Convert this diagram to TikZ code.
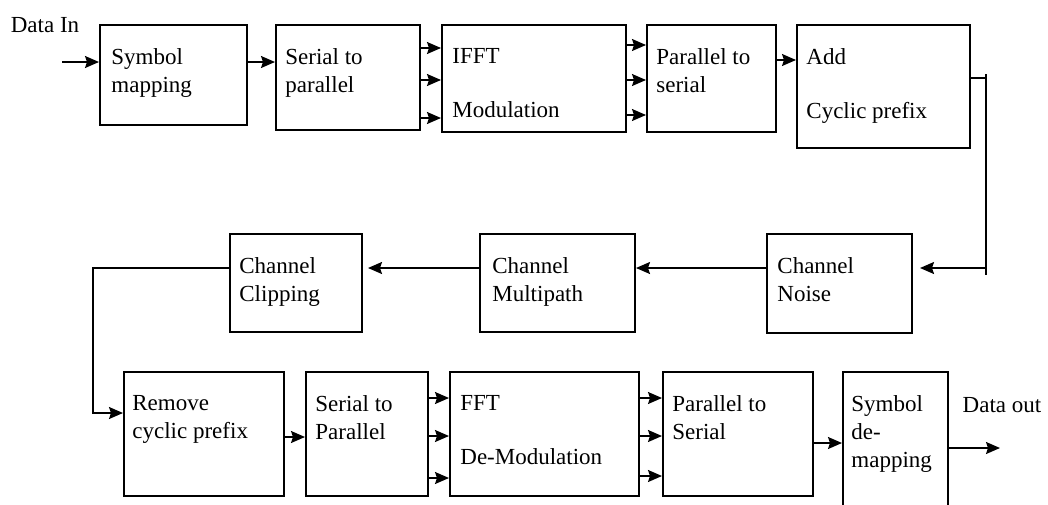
\documentclass[tikz,border=0pt]{standalone}
\usepackage{fontspec}
\setmainfont{Liberation Serif}
\usetikzlibrary{arrows.meta, positioning}

\tikzset{
  blk/.style 2 args={draw, line width=1pt, inner sep=0pt,
    minimum width=#1*0.5pt, minimum height=#2*0.5pt},
  lbl/.style={anchor=north west, inner sep=0pt, align=left,
    font=\fontsize{11.5}{14}\selectfont},
  arr/.style={-{Stealth[length=7pt,width=6pt,inset=1pt]}, line width=0.8pt},
  ln/.style={line width=0.8pt}
}

\begin{document}
\begin{tikzpicture}[x=0.5pt, y=-0.5pt]
        \useasboundingbox (0,0) rectangle (1048,504);
        % transmitter
        \node[blk={147}{100}] (sym) at (173.5,75) {};
        \node[blk={144}{105}] (stp) at (348,77.5) {};
        \node[blk={184}{107}] (ifft) at (534,78.5) {};
        \node[blk={129}{107}] (pts) at (711.5,78.5) {};
        \node[blk={173}{123}] (addcp) at (883.5,86.5) {};
        \node[lbl] (symT) at ([shift={(12,24)}]sym.north west) {Symbol\\mapping};
        \node[lbl] (stpT) at ([shift={(10,24)}]stp.north west) {Serial to\\parallel};
        \node[lbl] (ifftT) at ([shift={(11,24)}]ifft.north west) {IFFT\\[13pt]Modulation};
        \node[lbl] (ptsT) at ([shift={(10,24)}]pts.north west) {Parallel to\\serial};
        \node[lbl] (addcpT) at ([shift={(10,24)}]addcp.north west) {Add\\[13pt]Cyclic prefix};
        \node[font=\fontsize{11.5}{14}\selectfont, inner sep=0pt] (din) at (45,25.5) {Data In};
        % channel
        \node[blk={145}{99}] (noise) at (839.5,283.5) {};
        \node[blk={155}{98}] (multi) at (557.5,283) {};
        \node[blk={132}{98}] (clip) at (296,283) {};
        \node[lbl] (noiseT) at ([shift={(11,24)}]noise.north west) {Channel\\Noise};
        \node[lbl] (multiT) at ([shift={(13,24)}]multi.north west) {Channel\\Multipath};
        \node[lbl] (clipT) at ([shift={(10,24)}]clip.north west) {Channel\\Clipping};
        % receiver
        \node[blk={160}{124}] (remcp) at (204,434) {};
        \node[blk={122}{124}] (stpr) at (367,434) {};
        \node[blk={189}{124}] (fft) at (544.5,434) {};
        \node[blk={150}{124}] (ptsr) at (738,434) {};
        \node[blk={105}{140}] (demap) at (895.5,442) {};
        \node[lbl] (remcpT) at ([shift={(9,24)}]remcp.north west) {Remove\\cyclic prefix};
        \node[lbl] (stprT) at ([shift={(10,24)}]stpr.north west) {Serial to\\Parallel};
        \node[lbl] (fftT) at ([shift={(11,24)}]fft.north west) {FFT\\[13pt]De-Modulation};
        \node[lbl] (ptsrT) at ([shift={(10,24)}]ptsr.north west) {Parallel to\\Serial};
        \node[lbl] (demapT) at ([shift={(9,24)}]demap.north west) {Symbol\\de-\\mapping};
        \node[font=\fontsize{11.5}{14}\selectfont, inner sep=0pt] (dout) at (1002,405) {Data out};
        \coordinate (inS) at (62,62);
        \coordinate (outE) at (1000,448);
        \coordinate (fbT) at (986,74);
        \coordinate (fbB) at (986,275);
        \coordinate (bend) at (93,268);
        % connectors, top row
        \draw[arr] (inS) -- (sym.west |- inS);
        \draw[arr] (sym.east |- inS) -- (stp.west |- inS);
        \foreach \y in {48,80,118}
          \draw[arr] (stp.east |- 0,\y) -- (ifft.west |- 0,\y);
        \foreach \y in {45,80,115}
          \draw[arr] (ifft.east |- 0,\y) -- (pts.west |- 0,\y);
        \draw[arr] (pts.east |- 0,60) -- (addcp.west |- 0,60);
        % back through the channel
        \draw[ln] (addcp.east |- 0,78) -- (fbT |- 0,78);
        \draw[ln] (fbT) -- (fbB);
        \draw[arr, shorten >=7*0.5pt] (fbT |- bend) -- (noise.east |- bend);
        \draw[arr] (noise.west |- bend) -- (multi.east |- bend);
        \draw[arr, shorten >=5*0.5pt] (multi.west |- bend) -- (clip.east |- bend);
        \draw[arr] (clip.west |- bend) -- (bend) -- (bend |- 0,413) -- (remcp.west |- 0,413);
        % receiver row
        \draw[arr] (remcp.east |- 0,437) -- (stpr.west |- 0,437);
        \foreach \y in {398,436,478}
          \draw[arr] (stpr.east |- 0,\y) -- (fft.west |- 0,\y);
        \foreach \y in {398,436,476}
          \draw[arr] (fft.east |- 0,\y) -- (ptsr.west |- 0,\y);
        \draw[arr] (ptsr.east |- 0,443) -- (demap.west |- 0,443);
        \draw[arr] (demap.east |- outE) -- (outE);
    \end{tikzpicture}
\end{document}
